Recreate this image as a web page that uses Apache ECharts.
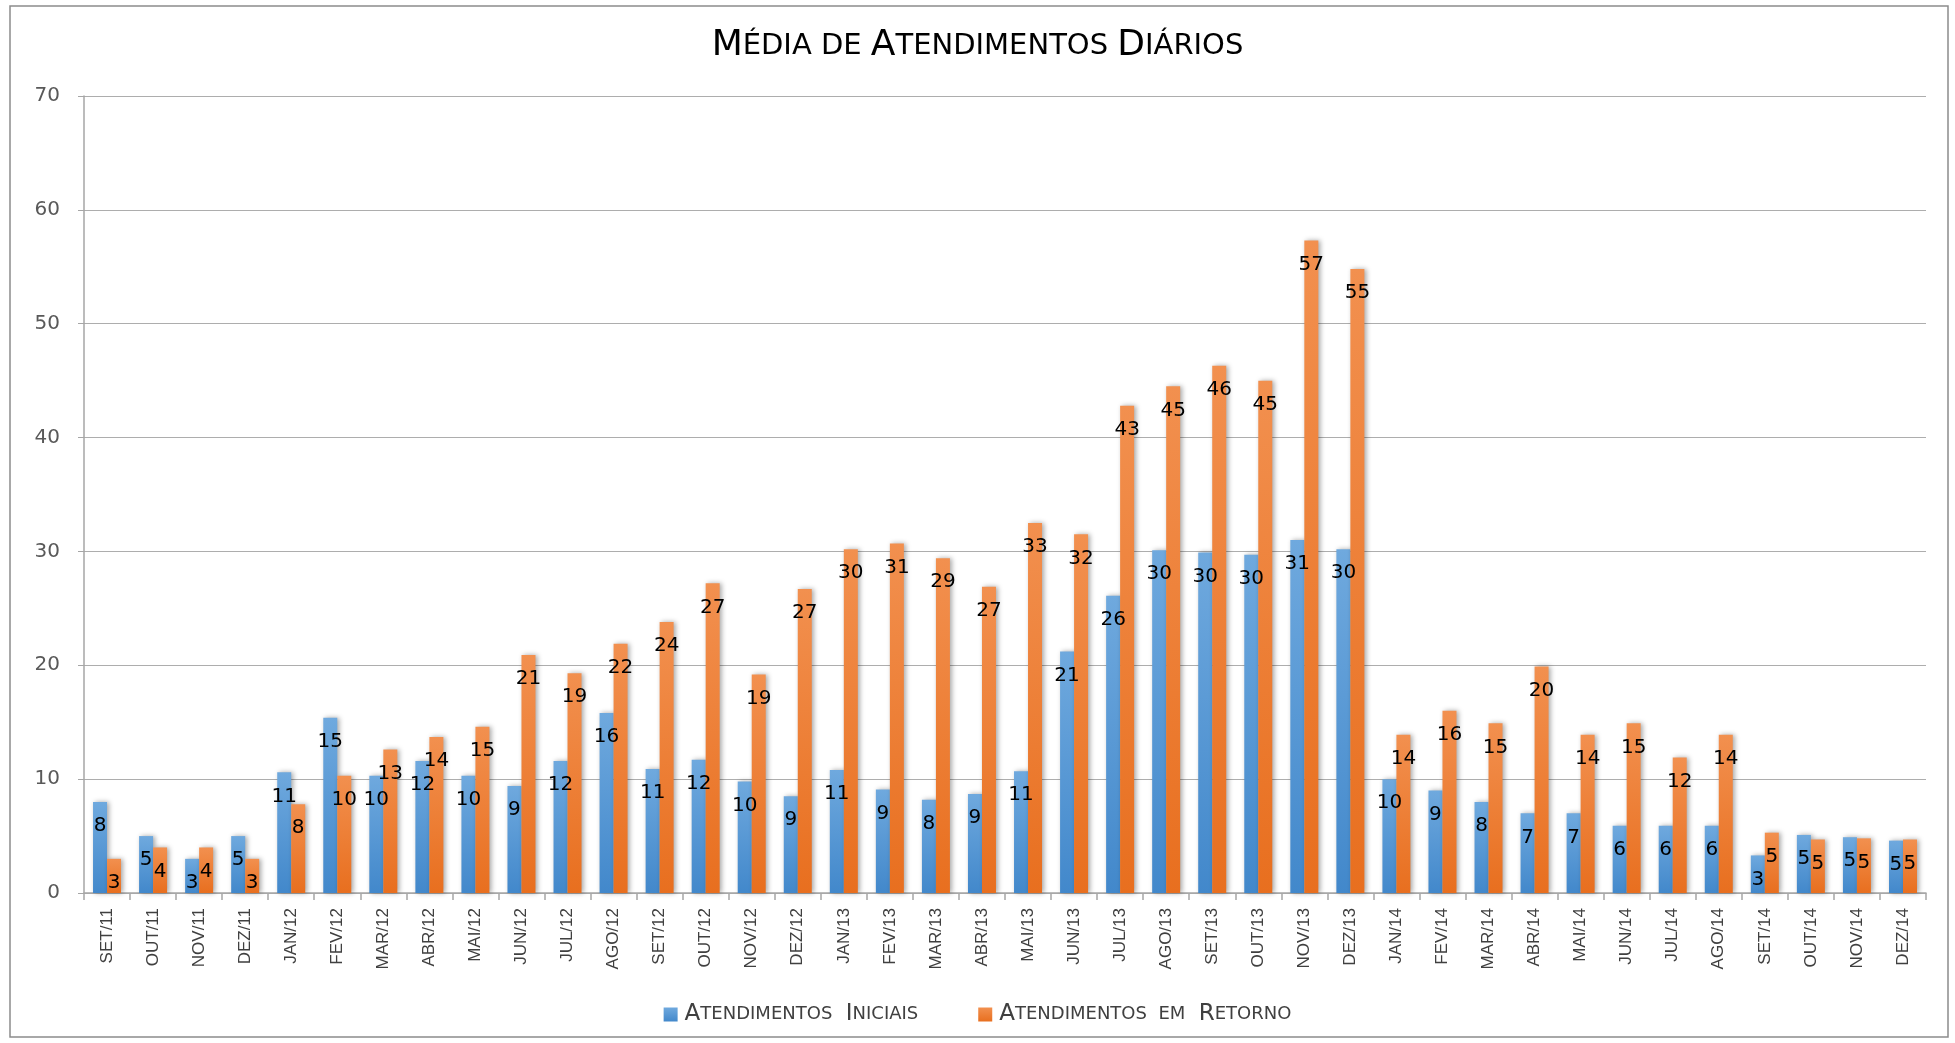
<!DOCTYPE html>
<html>
<head>
<meta charset="utf-8">
<script src="https://cdn.jsdelivr.net/npm/echarts@6/dist/echarts.min.js"></script>
<style>
  html, body { margin: 0; padding: 0; background: #fff; }
  #chart { width: 1955px; height: 1043px; }
</style>
</head>
<body>
<div id="chart"></div>
<script>
// meses (set/2011 a dez/2014)
const meses = [
  'SET/11', 'OUT/11', 'NOV/11', 'DEZ/11',
  'JAN/12', 'FEV/12', 'MAR/12', 'ABR/12', 'MAI/12', 'JUN/12',
  'JUL/12', 'AGO/12', 'SET/12', 'OUT/12', 'NOV/12', 'DEZ/12',
  'JAN/13', 'FEV/13', 'MAR/13', 'ABR/13', 'MAI/13', 'JUN/13',
  'JUL/13', 'AGO/13', 'SET/13', 'OUT/13', 'NOV/13', 'DEZ/13',
  'JAN/14', 'FEV/14', 'MAR/14', 'ABR/14', 'MAI/14', 'JUN/14',
  'JUL/14', 'AGO/14', 'SET/14', 'OUT/14', 'NOV/14', 'DEZ/14'
]

// valores (médias diárias)
const iniciais = [
  8.0, 5.0, 3.0, 5.0,
  10.6, 15.4, 10.3, 11.6, 10.3, 9.4,
  11.6, 15.8, 10.9, 11.7, 9.8, 8.5,
  10.8, 9.1, 8.2, 8.7, 10.7, 21.2,
  26.1, 30.1, 29.9, 29.7, 31.0, 30.2,
  10.0, 9.0, 8.0, 7.0, 7.0, 5.9,
  5.9, 5.9, 3.3, 5.1, 4.9, 4.6
]

const retorno = [
  3.0, 4.0, 4.0, 3.0,
  7.8, 10.3, 12.6, 13.7, 14.6, 20.9,
  19.3, 21.9, 23.8, 27.2, 19.2, 26.7,
  30.2, 30.7, 29.4, 26.9, 32.5, 31.5,
  42.8, 44.5, 46.3, 45.0, 57.3, 54.8,
  13.9, 16.0, 14.9, 19.9, 13.9, 14.9,
  11.9, 13.9, 5.3, 4.7, 4.8, 4.7
]

const tituloTexto = 'Média de Atendimentos Diários'
const nomeIniciais = 'Atendimentos Iniciais'
const nomeRetorno = 'Atendimentos em Retorno'

// versaletes: primeira letra maiúscula grande, resto pequeno
function versalete(txt, espaco) {
  return txt.split(' ').map(w => {
    const first = w.charAt(0)
    if (first === first.toUpperCase()) {
      return '{b|' + first + '}{s|' + w.slice(1).toUpperCase() + '}'
    }
    return '{s|' + w.toUpperCase() + '}'
  }).join('{s|' + espaco + '}')
}

const chart = echarts.init(document.getElementById('chart'))

function barColor(top, bottom) {
  return new echarts.graphic.LinearGradient(0, 0, 0, 1, [
    { offset: 0, color: top },
    { offset: 1, color: bottom },
  ])
}

const labelCfg = {
  show: true,
  position: 'insideTop',
  distance: 14,
  color: '#000',
  fontFamily: 'DejaVu Sans',
  fontSize: 20,
  formatter: p => Math.round(p.value),
}

const option = {
  backgroundColor: '#fff',
  animation: false,
  color: ['#5B9BD5', '#ED7D31'],
  title: {
    text: versalete(tituloTexto, ' '),
    left: 'center',
    top: 23,
    textStyle: {
      rich: {
        b: { fontFamily: 'DejaVu Sans', fontWeight: 'normal', fontSize: 36, color: '#000' },
        s: { fontFamily: 'DejaVu Sans', fontWeight: 'normal', fontSize: 29, color: '#000' },
      },
    },
  },
  legend: {
    bottom: 12,
    left: 'center',
    itemWidth: 14,
    itemHeight: 14,
    itemGap: 60,
    icon: 'rect',
    formatter: name => versalete(name, '  '),
    textStyle: {
      rich: {
        b: { fontFamily: 'DejaVu Sans', fontSize: 23, color: '#404040', padding: [0, 0, 0, 2] },
        s: { fontFamily: 'DejaVu Sans', fontSize: 18, color: '#404040' },
      },
    },
  },
  grid: {
    left: 84,
    right: 29,
    top: 96,
    bottom: 150,
  },
  xAxis: {
    type: 'category',
    data: meses,
    axisLine: { lineStyle: { color: '#A6A6A6', width: 1.5 } },
    axisTick: { show: true, length: 7, lineStyle: { color: '#A6A6A6', width: 1.5 } },
    axisLabel: {
      rotate: 90,
      interval: 0,
      margin: 15,
      color: '#404040',
      fontFamily: 'Liberation Sans',
      fontSize: 17,
    },
  },
  yAxis: {
    type: 'value',
    min: 0,
    max: 70,
    interval: 10,
    axisLine: { show: true, lineStyle: { color: '#A6A6A6', width: 1.5 } },
    axisTick: { show: true, length: 6, lineStyle: { color: '#A6A6A6' } },
    axisLabel: {
      margin: 24,
      color: '#595959',
      fontFamily: 'DejaVu Sans',
      fontSize: 20,
    },
    splitLine: { lineStyle: { color: '#ADADAD', width: 1.2 } },
  },
  series: [
    {
      name: nomeIniciais,
      type: 'bar',
      data: iniciais,
      barWidth: 14,
      barGap: '0%',
      itemStyle: {
        color: barColor('#6FA9DE', '#4288CB'),
        shadowColor: 'rgba(0,0,0,0.35)',
        shadowBlur: 5,
        shadowOffsetX: 2,
        shadowOffsetY: 0,
      },
      label: labelCfg,
    },
    {
      name: nomeRetorno,
      type: 'bar',
      data: retorno,
      barWidth: 14,
      itemStyle: {
        color: barColor('#F2904F', '#E86F1F'),
        shadowColor: 'rgba(0,0,0,0.35)',
        shadowBlur: 5,
        shadowOffsetX: 2,
        shadowOffsetY: 0,
      },
      label: labelCfg,
    },
  ],
  graphic: [
    {
      type: 'rect',
      shape: { x: 10, y: 6, width: 1938, height: 1031 },
      style: { fill: null, stroke: '#8C8C8C', lineWidth: 1.5 },
      silent: true,
      z: -1,
    },
  ],
}

chart.setOption(option)
</script>
</body>
</html>
